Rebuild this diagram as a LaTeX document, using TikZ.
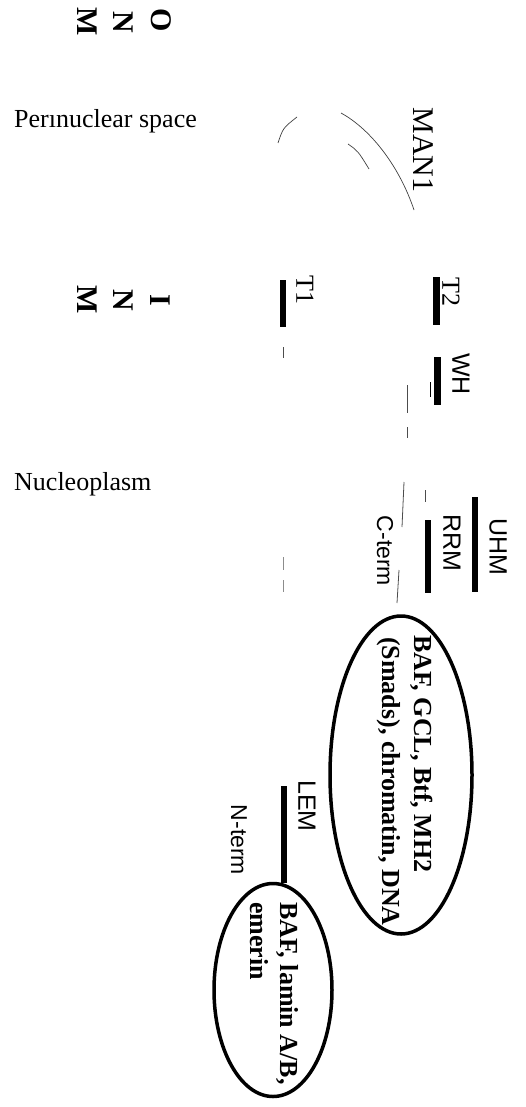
\documentclass[tikz,border=0pt]{standalone}
\usepackage{fontspec}
\setmainfont{Liberation Serif}
\newfontfamily\sansf{Liberation Sans}
\usetikzlibrary{shapes.geometric}
\tikzset{
  barnode/.style={fill=black, draw=none, inner sep=0pt, minimum width=6pt},
  rlbl/.style={inner sep=0pt, rotate=-90},
  serifl/.style={font=\fontsize{26}{30}\selectfont},
  sansl/.style={font=\sansf\fontsize{25}{30}\selectfont},
  sanss/.style={font=\sansf\fontsize{23}{28}\selectfont},
  bigletter/.style={font=\bfseries\fontsize{30}{34}\selectfont, rotate=-90, inner sep=0pt},
  elltext/.style={font=\bfseries\fontsize{26}{30}\selectfont, rotate=-90, inner sep=0pt, anchor=base west},
  ell/.style={ellipse, draw, line width=3.5pt, inner sep=0pt},
  dashseg/.style={line width=0.8pt, black!70},
  thinarc/.style={line width=0.7pt, black!75}
}
\begin{document}
\begin{tikzpicture}[x=1pt,y=-1pt]
\useasboundingbox (0,0) rectangle (526,1107);
% ONM
\node[bigletter] (onmM) at (87,22) {M};
\node[bigletter] (onmN) at (123,22) {N};
\node[bigletter] (onmO) at (161,20) {O};
% INM
\node[bigletter] (inmM) at (87,300) {M};
\node[bigletter] (inmN) at (123,300) {N};
\node[bigletter] (inmI) at (160,300) {I};
% region labels
\node[serifl, anchor=base west, inner sep=0pt] (peri) at (14,128) {Per\i nuclear space};
\node[serifl, anchor=base west, inner sep=0pt] (nucleo) at (14,490) {Nucleoplasm};
% MAN1 and arcs
\node[rlbl, font=\fontsize{30}{34}\selectfont] (man1) at (423,150) {MAN1};
\coordinate (a1s) at (278,143); \coordinate (a1e) at (297,117);
\draw[thinarc] (a1s) .. controls (283,128) .. (a1e);
\coordinate (a2s) at (341,113); \coordinate (a2e) at (414,210);
\draw[thinarc] (a2s) .. controls (372,130) and (400,168) .. (a2e);
\coordinate (a3s) at (348,144); \coordinate (a3e) at (369,169);
\draw[thinarc] (a3s) .. controls (358,151) .. (a3e);
% T1
\node[barnode, minimum height=47pt] (t1) at (283,303.5) {};
\node[rlbl, serifl] (t1l) at (305,290) {T1};
% T2
\node[barnode, minimum width=7pt, minimum height=48pt] (t2) at (436,301) {};
\node[rlbl, serifl] (t2l) at (451,292) {T2};
% WH
\node[barnode, minimum width=7pt, minimum height=48pt] (wh) at (437,381) {};
\node[rlbl, sansl] (whl) at (461,374) {WH};
\coordinate (whs1) at (430,382); \coordinate (whs2) at (430,397);
\draw[line width=0.8pt] (whs1) -- (whs2);
% UHM
\node[barnode, minimum height=95pt] (uhm) at (475,544.5) {};
\node[rlbl, sansl] (uhml) at (498,547) {UHM};
% RRM
\node[barnode, minimum height=73pt] (rrm) at (428,556.5) {};
\node[rlbl, sansl] (rrml) at (452,543) {RRM};
\node[rlbl, sanss] (cterm) at (385,551) {C-term};
% dashed segments
\coordinate (d1a) at (407,385); \coordinate (d1b) at (407,413);
\coordinate (d2a) at (407,427); \coordinate (d2b) at (407,438);
\coordinate (d3a) at (404,482); \coordinate (d3b) at (402,527);
\coordinate (d4a) at (399,570); \coordinate (d4b) at (397,603);
\coordinate (d5a) at (425,490); \coordinate (d5b) at (425,502);
\coordinate (d6a) at (283,347); \coordinate (d6b) at (283,358);
\coordinate (d7a) at (283,557); \coordinate (d7b) at (283,570);
\coordinate (d8a) at (283,580); \coordinate (d8b) at (283,592);
\draw[dashseg] (d1a) -- (d1b);
\draw[dashseg] (d2a) -- (d2b);
\draw[dashseg] (d3a) -- (d3b);
\draw[dashseg] (d4a) -- (d4b);
\draw[dashseg] (d5a) -- (d5b);
\draw[dashseg] (d6a) -- (d6b);
\draw[dashseg, black!45] (d7a) -- (d7b);
\draw[dashseg, black!45] (d8a) -- (d8b);
% big ellipse
\node[ell, minimum width=142pt, minimum height=318pt] (bigell) at (401,775) {};
\node[elltext] (bl1) at (414,635) {BAF, GCL, Btf, MH2};
\node[elltext] (bl2) at (382,637) {(Smads), chromatin, DNA};
% LEM
\node[barnode, minimum height=97pt] (lem) at (284,834) {};
\node[rlbl, sansl] (leml) at (307,806) {LEM};
\node[rlbl, sanss] (nterm) at (239,840) {N-term};
% small ellipse
\node[ell, minimum width=118pt, minimum height=213pt] (smell) at (273,990) {};
\node[elltext] (sl1) at (280,902) {BAF, lamin A/B,};
\node[elltext] (sl2) at (250,902) {emerin};
\end{tikzpicture}
\end{document}
